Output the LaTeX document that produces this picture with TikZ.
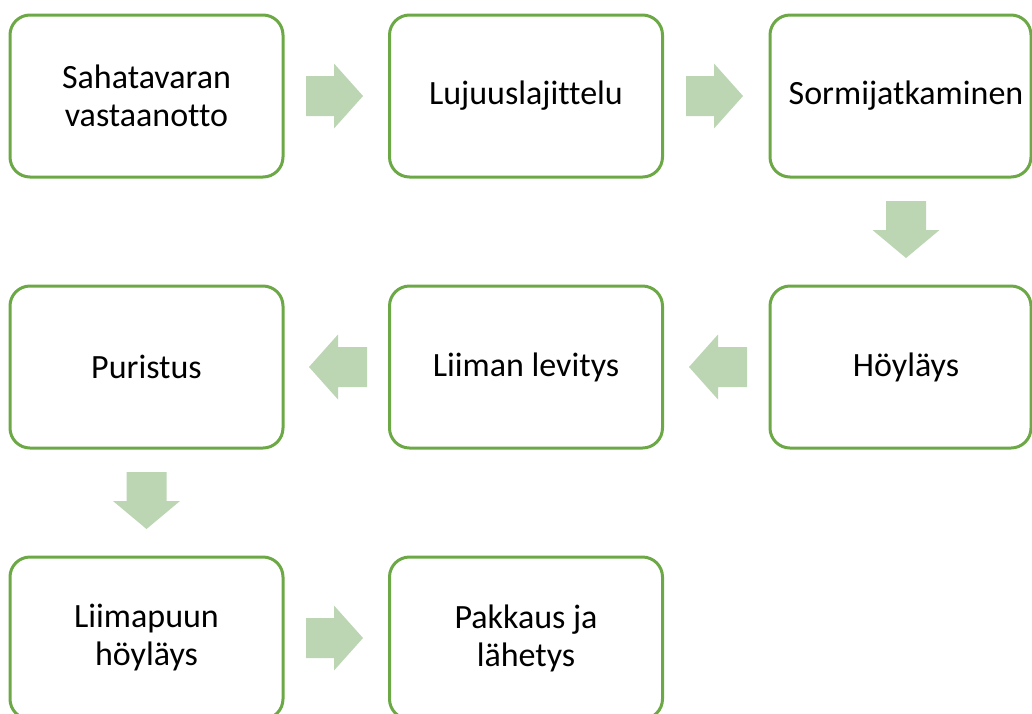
\documentclass[tikz,border=0pt]{standalone}
\usepackage{fontspec}
\setmainfont{Carlito}[Ligatures=CommonOff]
\definecolor{boxline}{RGB}{108,169,70}
\definecolor{arrowfill}{RGB}{188,214,180}
\tikzset{
  box/.style={draw=boxline, line width=3pt, rounded corners=20pt,
    minimum width=273pt, minimum height=162pt, fill=white, inner sep=0pt},
  lbl/.style={align=center, inner sep=0pt,
    font=\fontsize{34pt}{38pt}\selectfont},
  blockarrow/.style={fill=arrowfill, draw=none}
}
% block arrows: shaft 28 long and 40 wide, head 29 long and 65 wide
\newcommand\rightblock[2]{% left end x, centre y
  \fill[blockarrow] (#1,#2-20) -- ++(28,0) -- ++(0,-12.5) -- (#1+57,#2)
    -- (#1+28,#2+32.5) -- ++(0,-12.5) -- (#1,#2+20) -- cycle;}
\newcommand\leftblock[2]{% right end x, centre y
  \fill[blockarrow] (#1,#2-20) -- ++(-29,0) -- ++(0,-12.5) -- (#1-58,#2)
    -- (#1-29,#2+32.5) -- ++(0,-12.5) -- (#1,#2+20) -- cycle;}
\newcommand\downblock[2]{% centre x, top y
  \fill[blockarrow] (#1-20,#2) -- ++(0,29) -- ++(-13.5,0) -- (#1,#2+57)
    -- (#1+33.5,#2+29) -- ++(-13.5,0) -- (#1+20,#2) -- cycle;}
\begin{document}
\begin{tikzpicture}[x=1pt, y=-1pt]
  \useasboundingbox (0,0) rectangle (1032,713);
  \clip (0,0) rectangle (1032,713);
  \fill[white] (0,0) rectangle (1032,713);

  % first row
  \node[box] (b1) at (146.5,96) {};
  \node[lbl] (t1) at (b1) {Sahatavaran\\vastaanotto};
  \node[box] (b2) at (526,96) {};
  \node[lbl] (t2) at (b2) {Lujuuslajittelu};
  \node[box, minimum width=261pt] (b3) at (900.5,96) {};
  \node[lbl] (t3) at (906,96) {Sormijatkaminen};

  % second row
  \node[box] (b6) at (146.5,367) {};
  \node[lbl] (t6) at (b6) {Puristus};
  \node[box] (b5) at (526,367) {};
  \node[lbl] (t5) at (b5) {Liiman levitys};
  \node[box, minimum width=261pt] (b4) at (900.5,367) {};
  \node[lbl] (t4) at (906,367) {Höyläys};

  % third row
  \node[box] (b7) at (146.5,638) {};
  \node[lbl] (t7) at (b7) {Liimapuun\\höyläys};
  \node[box] (b8) at (526,638) {};
  \node[lbl] (t8) at (b8) {Pakkaus ja\\lähetys};

  % flow arrows
  \rightblock{306}{96}
  \rightblock{686}{96}
  \downblock{906}{201}
  \leftblock{747}{367}
  \leftblock{367}{367}
  \downblock{146.5}{472}
  \rightblock{306}{638}
\end{tikzpicture}
\end{document}
